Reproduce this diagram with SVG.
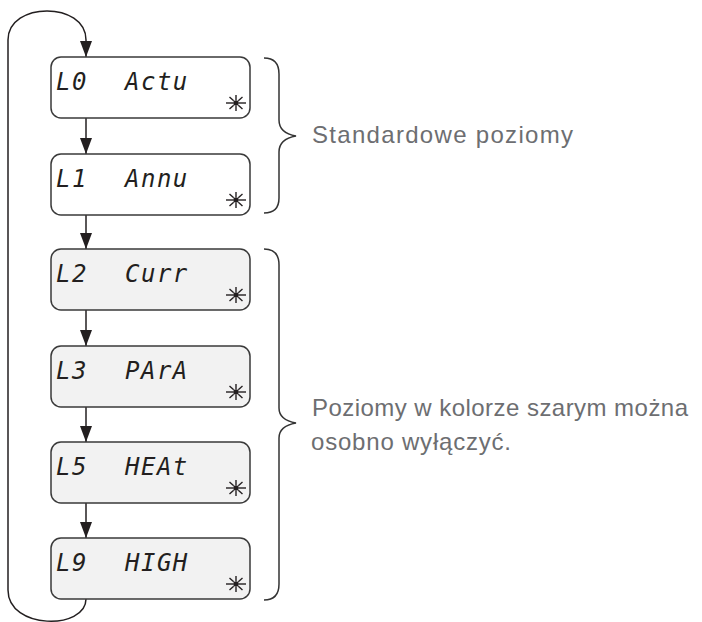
<svg xmlns="http://www.w3.org/2000/svg" width="702" height="622" viewBox="0 0 702 622">
<style>
.box{stroke:#3a3a3a;stroke-width:1.5}
.std{fill:#ffffff}
.gry{fill:#f2f2f2}
.lcd{font-family:"DejaVu Sans Mono","Liberation Mono",monospace;font-size:24px;font-style:oblique;fill:#231f20;letter-spacing:1.5px}
.conn{fill:none;stroke:#231f20;stroke-width:1.5}
.brace{fill:none;stroke:#333333;stroke-width:1.5}
.note{font-family:"Liberation Sans",Arial,sans-serif;font-size:24px;fill:#6d6e71}
.ray{stroke:#231f20;stroke-width:1.4}
</style>
<defs>
<marker id="ah" markerUnits="userSpaceOnUse" markerWidth="16" markerHeight="12" refX="16" refY="6" orient="auto">
<path d="M0,0 L16,6 L0,12 z" fill="#231f20"/>
</marker>
<g id="star">
<circle cx="0" cy="0" r="2.8" fill="#231f20"/>
<line class="ray" x1="3" y1="0" x2="10" y2="0"/>
<line class="ray" x1="-3" y1="0" x2="-10" y2="0"/>
<line class="ray" x1="0" y1="3" x2="0" y2="8"/>
<line class="ray" x1="0" y1="-3" x2="0" y2="-8"/>
<line class="ray" x1="2.3" y1="2.3" x2="6.5" y2="6"/>
<line class="ray" x1="-2.3" y1="2.3" x2="-6.5" y2="6"/>
<line class="ray" x1="2.3" y1="-2.3" x2="6.5" y2="-6"/>
<line class="ray" x1="-2.3" y1="-2.3" x2="-6.5" y2="-6"/>
</g>
</defs>

<g id="connectors">
<line class="conn" x1="86" y1="118" x2="86" y2="154" marker-end="url(#ah)"/>
<line class="conn" x1="86" y1="215" x2="86" y2="249" marker-end="url(#ah)"/>
<line class="conn" x1="86" y1="310" x2="86" y2="346" marker-end="url(#ah)"/>
<line class="conn" x1="86" y1="407" x2="86" y2="442" marker-end="url(#ah)"/>
<line class="conn" x1="86" y1="503" x2="86" y2="538" marker-end="url(#ah)"/>
<path class="conn" d="M86 599 C86 630 8 630 8 590 L8 40 C8 1.3 86 1.3 86 40 L86 57" marker-end="url(#ah)"/>
</g>

<g id="L0">
<rect class="box std" x="51" y="57" width="199" height="61" rx="10"/>
<text class="lcd" x="56" y="90">L0</text>
<text class="lcd" x="125" y="90">Actu</text>
<use href="#star" x="236" y="103"/>
</g>
<g id="L1">
<rect class="box std" x="51" y="154" width="199" height="61" rx="10"/>
<text class="lcd" x="56" y="187">L1</text>
<text class="lcd" x="125" y="187">Annu</text>
<use href="#star" x="236" y="200"/>
</g>
<g id="L2">
<rect class="box gry" x="51" y="249" width="199" height="61" rx="10"/>
<text class="lcd" x="56" y="282">L2</text>
<text class="lcd" x="125" y="282">Curr</text>
<use href="#star" x="236" y="295"/>
</g>
<g id="L3">
<rect class="box gry" x="51" y="346" width="199" height="61" rx="10"/>
<text class="lcd" x="56" y="379">L3</text>
<text class="lcd" x="125" y="379">PArA</text>
<use href="#star" x="236" y="392"/>
</g>
<g id="L5">
<rect class="box gry" x="51" y="442" width="199" height="61" rx="10"/>
<text class="lcd" x="56" y="475">L5</text>
<text class="lcd" x="125" y="475">HEAt</text>
<use href="#star" x="236" y="488"/>
</g>
<g id="L9">
<rect class="box gry" x="51" y="538" width="199" height="61" rx="10"/>
<text class="lcd" x="56" y="571">L9</text>
<text class="lcd" x="125" y="571">HIGH</text>
<use href="#star" x="236" y="584"/>
</g>

<g id="brace-standard">
<path class="brace" d="M264 58 Q279 58 279 74 L279 120 Q279 133 296 136 Q279 139 279 152 L279 198 Q279 213 264 213"/>
<text class="note" x="312" y="143" textLength="261" lengthAdjust="spacing">Standardowe poziomy</text>
</g>
<g id="brace-grey">
<path class="brace" d="M264 249 Q279 249 279 265 L279 408 Q279 420 296 423 Q279 426 279 438 L279 584 Q279 600 264 600"/>
<text class="note" x="312" y="416" textLength="376" lengthAdjust="spacing">Poziomy w kolorze szarym można</text>
<text class="note" x="311" y="450" textLength="200" lengthAdjust="spacing">osobno wyłączyć.</text>
</g>
</svg>
